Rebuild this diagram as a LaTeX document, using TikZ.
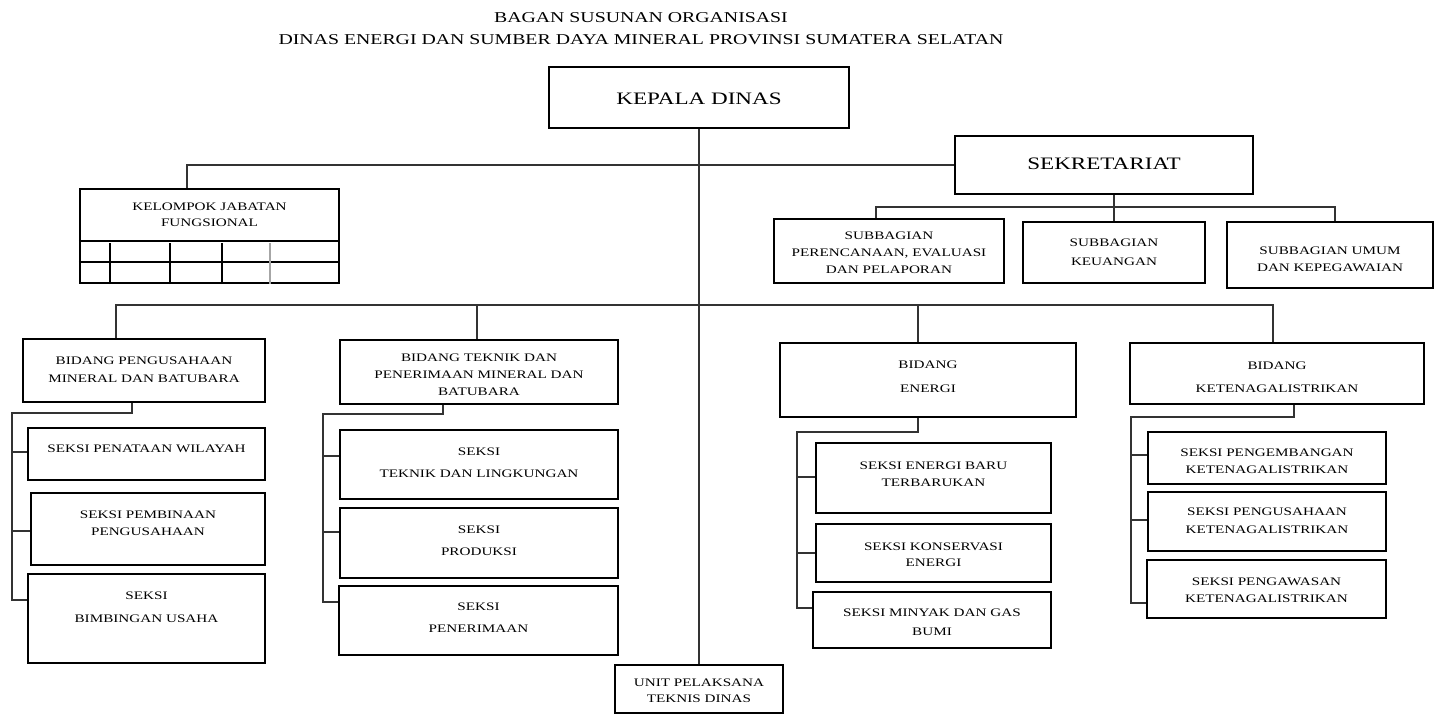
\documentclass[tikz,border=0pt]{standalone}
\usepackage{fontspec}
\setmainfont{Liberation Serif}[FakeStretch=1.32]
\newcommand\orgbox[8][txt]{%
  \node[box, minimum width={#5-#3}, minimum height={#6-#4}] (#2) at ({(#3+#5)/2},{(#4+#6)/2}) {};
  \node[#1] (#2t) at ({(#3+#5)/2},#7) {#8};}
\begin{document}
\begin{tikzpicture}[x=1pt,y=-1pt,
  box/.style={draw, line width=2.4pt, inner sep=0pt},
  txt/.style={inner sep=0pt, align=center, font=\fontsize{11.5}{17}\selectfont},
  big/.style={inner sep=0pt, align=center, font=\fontsize{17.5}{21}\selectfont},
  ttl/.style={inner sep=0pt, align=center, font=\fontsize{15}{22}\selectfont},
  conn/.style={line width=1.1pt, draw=black!80},
  grid/.style={line width=1.5pt},
]
\useasboundingbox (0,0) rectangle (1442,715);

\node[ttl] (title) at (641,29) {BAGAN SUSUNAN ORGANISASI\\DINAS ENERGI DAN SUMBER DAYA MINERAL PROVINSI SUMATERA SELATAN};

\orgbox[big]{kd}{549}{67}{849}{128}{99}{KEPALA DINAS}
\orgbox[big]{sek}{955}{136}{1253}{194}{164}{SEKRETARIAT}
\orgbox{kjf}{80}{189}{339}{283}{215}{KELOMPOK JABATAN\\[-1pt]FUNGSIONAL}
\orgbox{sp}{774}{219}{1004}{283}{253}{SUBBAGIAN\\PERENCANAAN, EVALUASI\\DAN PELAPORAN}
\orgbox{sk}{1023}{222}{1205}{283}{252}{SUBBAGIAN\\[2pt]KEUANGAN}
\orgbox{su}{1227}{222}{1433}{288}{259}{SUBBAGIAN UMUM\\DAN KEPEGAWAIAN}

\orgbox{bpm}{23}{339}{265}{402}{370}{BIDANG PENGUSAHAAN\\[1pt]MINERAL DAN BATUBARA}
\orgbox{btk}{340}{340}{618}{404}{375}{BIDANG TEKNIK DAN\\PENERIMAAN MINERAL DAN\\BATUBARA}
\orgbox{ben}{780}{343}{1076}{417}{377}{BIDANG\\[7pt]ENERGI}
\orgbox{bke}{1130}{343}{1424}{404}{377.5}{BIDANG\\[6pt]KETENAGALISTRIKAN}

\orgbox{s11}{28}{428}{265}{480}{449}{SEKSI PENATAAN WILAYAH}
\orgbox{s12}{31}{493}{265}{565}{523.5}{SEKSI PEMBINAAN\\PENGUSAHAAN}
\orgbox{s13}{28}{574}{265}{663}{607.5}{SEKSI\\[6pt]BIMBINGAN USAHA}

\orgbox{s21}{340}{430}{618}{499}{463}{SEKSI\\[5pt]TEKNIK DAN LINGKUNGAN}
\orgbox{s22}{340}{508}{618}{578}{541}{SEKSI\\[5pt]PRODUKSI}
\orgbox{s23}{339}{586}{618}{655}{618}{SEKSI\\[5pt]PENERIMAAN}

\orgbox{s31}{816}{443}{1051}{513}{474.5}{SEKSI ENERGI BARU\\TERBARUKAN}
\orgbox{s32}{816}{524}{1051}{582}{555}{SEKSI KONSERVASI\\[-1pt]ENERGI}
\orgbox{s33}{813}{592}{1051}{648}{622.5}{SEKSI MINYAK DAN GAS\\[2pt]BUMI}

\orgbox{s41}{1148}{432}{1386}{484}{461.5}{SEKSI PENGEMBANGAN\\KETENAGALISTRIKAN}
\orgbox{s42}{1148}{492}{1386}{551}{521}{SEKSI PENGUSAHAAN\\[1pt]KETENAGALISTRIKAN}
\orgbox{s43}{1147}{560}{1386}{618}{590.5}{SEKSI PENGAWASAN\\KETENAGALISTRIKAN}

\orgbox{upt}{615}{665}{783}{713}{691}{UNIT PELAKSANA\\[-1pt]TEKNIS DINAS}

% grid of Kelompok Jabatan Fungsional
\draw[line width=2.2pt] ([yshift=-53pt]kjf.north west) -- ([yshift=-53pt]kjf.north east);
\draw[grid] ([yshift=22pt]kjf.south west) -- ([yshift=22pt]kjf.south east);
\foreach \dx in {31,91,143}{
  \draw[grid] ([xshift=\dx pt]kjf.south west) -- ([xshift=\dx pt,yshift=41pt]kjf.south west);
}
\draw[grid, draw=black!35] ([xshift=191pt]kjf.south west) -- ([xshift=191pt,yshift=41pt]kjf.south west);

% main vertical line
\draw[conn] (kd.south) -- (upt.north);
% functional group
\draw[conn] (sek.west) -| ([xshift=-22.5pt]kjf.north);
% secretariat
\draw[conn] (sek.south -| sk.north) -- (sk.north);
\coordinate (sbus) at (0,207);
\coordinate (spT) at ([xshift=-13pt]sp.north);
\coordinate (suT) at ([xshift=5pt]su.north);
\draw[conn] (spT) |- (sbus -| suT) -- (suT);
% bidang bus
\coordinate (bbus) at (0,305);
\coordinate (b1T) at ([xshift=-28pt]bpm.north);
\coordinate (b2T) at ([xshift=-2pt]btk.north);
\coordinate (b3T) at ([xshift=-10pt]ben.north);
\coordinate (b4T) at ([xshift=-4pt]bke.north);
\draw[conn] (b1T) |- (bbus -| b4T) -- (b4T);
\draw[conn] (b2T) -- (bbus -| b2T);
\draw[conn] (b3T) -- (bbus -| b3T);

% seksi group 1
\coordinate (g1) at ([xshift=-12pt]bpm.south);
\coordinate (r1) at (12,413);
\coordinate (c11) at ([yshift=2pt]s11.west);
\coordinate (c12) at ([yshift=-2pt]s12.west);
\coordinate (c13) at ([yshift=18.5pt]s13.west);
\draw[conn] (g1) |- (r1) -- (r1 |- c13) -- (c13);
\draw[conn] (r1 |- c11) -- (c11);
\draw[conn] (r1 |- c12) -- (c12);
% seksi group 2
\coordinate (g2) at ([xshift=-36pt]btk.south);
\coordinate (r2) at (323,414);
\coordinate (c21) at ([yshift=8.5pt]s21.west);
\coordinate (c22) at ([yshift=11pt]s22.west);
\coordinate (c23) at ([yshift=18.5pt]s23.west);
\draw[conn] (g2) |- (r2) -- (r2 |- c23) -- (c23);
\draw[conn] (r2 |- c21) -- (c21);
\draw[conn] (r2 |- c22) -- (c22);
% seksi group 3
\coordinate (g3) at ([xshift=-10pt]ben.south);
\coordinate (r3) at (797,432);
\coordinate (c31) at ([yshift=1pt]s31.west);
\coordinate (c32) at (s32.west);
\coordinate (c33) at ([yshift=12pt]s33.west);
\draw[conn] (g3) |- (r3) -- (r3 |- c33) -- (c33);
\draw[conn] (r3 |- c31) -- (c31);
\draw[conn] (r3 |- c32) -- (c32);
% seksi group 4
\coordinate (g4) at ([xshift=17pt]bke.south);
\coordinate (r4) at (1131,417);
\coordinate (c41) at ([yshift=3pt]s41.west);
\coordinate (c42) at ([yshift=1.5pt]s42.west);
\coordinate (c43) at ([yshift=-14pt]s43.west);
\draw[conn] (g4) |- (r4) -- (r4 |- c43) -- (c43);
\draw[conn] (r4 |- c41) -- (c41);
\draw[conn] (r4 |- c42) -- (c42);
\end{tikzpicture}
\end{document}
